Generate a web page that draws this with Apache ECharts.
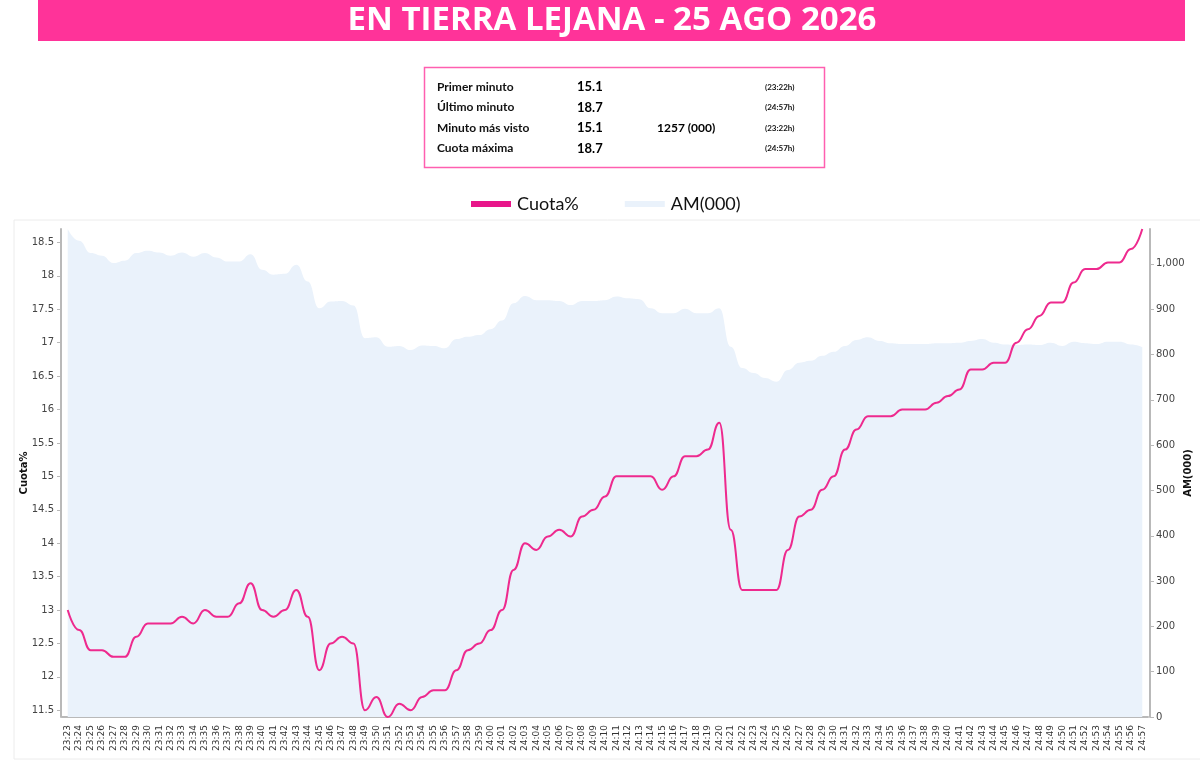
<!DOCTYPE html>
<html>
<head>
<meta charset="utf-8">
<script src="https://cdn.jsdelivr.net/npm/echarts@6/dist/echarts.min.js"></script>
<style>
html,body{margin:0;padding:0;background:#fff;}
#chart{width:1200px;height:761px;}
</style>
</head>
<body>
<div id="chart"></div>
<script>
var categories = ['23:23','23:24','23:25','23:26','23:27','23:28','23:29','23:30','23:31','23:32','23:33','23:34','23:35','23:36','23:37','23:38','23:39','23:40','23:41','23:42','23:43','23:44','23:45','23:46','23:47','23:48','23:49','23:50','23:51','23:52','23:53','23:54','23:55','23:56','23:57','23:58','23:59','24:00','24:01','24:02','24:03','24:04','24:05','24:06','24:07','24:08','24:09','24:10','24:11','24:12','24:13','24:14','24:15','24:16','24:17','24:18','24:19','24:20','24:21','24:22','24:23','24:24','24:25','24:26','24:27','24:28','24:29','24:30','24:31','24:32','24:33','24:34','24:35','24:36','24:37','24:38','24:39','24:40','24:41','24:42','24:43','24:44','24:45','24:46','24:47','24:48','24:49','24:50','24:51','24:52','24:53','24:54','24:55','24:56','24:57'];

var cuota = [13.0,12.7,12.4,12.4,12.3,12.3,12.6,12.8,12.8,12.8,12.9,12.8,13.0,12.9,12.9,13.1,13.4,13.0,12.9,13.0,13.3,12.9,12.1,12.5,12.6,12.5,11.5,11.7,11.4,11.6,11.5,11.7,11.8,11.8,12.1,12.4,12.5,12.7,13.0,13.6,14.0,13.9,14.1,14.2,14.1,14.4,14.5,14.7,15.0,15.0,15.0,15.0,14.8,15.0,15.3,15.3,15.4,15.8,14.2,13.3,13.3,13.3,13.3,13.9,14.4,14.5,14.8,15.0,15.4,15.7,15.9,15.9,15.9,16.0,16.0,16.0,16.1,16.2,16.3,16.6,16.6,16.7,16.7,17.0,17.2,17.4,17.6,17.6,17.9,18.1,18.1,18.2,18.2,18.4,18.7];

var am = [1077,1051,1024,1018,1002,1007,1024,1029,1025,1018,1025,1016,1024,1014,1005,1005,1021,987,976,978,998,961,902,917,918,908,836,838,817,819,810,820,819,814,834,839,843,856,875,913,929,920,920,918,909,918,918,920,928,924,922,902,891,891,901,891,891,902,817,770,759,748,740,766,782,786,797,806,819,832,838,830,825,823,823,823,825,825,826,830,834,826,822,821,822,821,826,819,828,825,823,828,828,822,816];

var cuotaTicks = [11.5,12,12.5,13,13.5,14,14.5,15,15.5,16,16.5,17,17.5,18,18.5];
var amTicks = [0,100,200,300,400,500,600,700,800,900,1000];

var titleText = 'EN TIERRA LEJANA - 25 AGO 2026';
var infoLabels = ['Primer minuto','Último minuto','Minuto más visto','Cuota máxima'];
var infoValues = ['15.1','18.7','15.1','18.7'];
var infoExtra = ['','','1257 (000)',''];
var infoTimes = ['(23:22h)','(24:57h)','(23:22h)','(24:57h)'];

var PINK = '#EE2A8E';
var AREA = '#EAF2FB';
var AXIS = '#b9b9b9';
var LABEL_FONT = 'DejaVu Sans';
var HEAD_FONT = 'Lato';

var graphics = [
  {type:'rect', shape:{x:14,y:220,width:1200,height:539}, style:{fill:'none',stroke:'#ececec',lineWidth:1}, silent:true, z:-10},
  {type:'rect', shape:{x:38,y:0,width:1147,height:41}, style:{fill:'#FF3399'}},
  {type:'text', x:612, y:21, style:{text:titleText, fill:'#fff', font:'bold 33px "Open Sans"', align:'center', verticalAlign:'middle'}},
  {type:'rect', shape:{x:424.5,y:67.5,width:400,height:100}, style:{fill:'#fff',stroke:'#FF5FB0',lineWidth:1.5}}
];
var rowY = [87, 107.5, 128, 148.5];
for (var i = 0; i < infoLabels.length; i++) {
  graphics.push({type:'text', x:437, y:rowY[i], style:{text:infoLabels[i], fill:'#111', font:'bold 12px "'+HEAD_FONT+'"', verticalAlign:'middle'}});
  graphics.push({type:'text', x:577, y:rowY[i], style:{text:infoValues[i], fill:'#000', font:'bold 13px "'+HEAD_FONT+'"', verticalAlign:'middle'}});
  if (infoExtra[i]) graphics.push({type:'text', x:657, y:rowY[i], style:{text:infoExtra[i], fill:'#000', font:'bold 12px "'+HEAD_FONT+'"', verticalAlign:'middle'}});
  graphics.push({type:'text', x:765, y:rowY[i], style:{text:infoTimes[i], fill:'#111', font:'bold 8px "'+HEAD_FONT+'"', verticalAlign:'middle'}});
}

var chart = echarts.init(document.getElementById('chart'), null, {renderer:'canvas'});
chart.setOption({
  animation:false,
  backgroundColor:'#fff',
  graphic: graphics,
  legend: {
    data:[{name:'Cuota%', icon:'rect', itemStyle:{color:'#E8168A'}}, {name:'AM(000)', icon:'rect', itemStyle:{color:AREA}}],
    left:466, top:190, itemWidth:40, itemHeight:6, itemGap:46,
    textStyle:{fontFamily:HEAD_FONT, fontSize:18, color:'#111', padding:[0,0,0,1]}
  },
  grid:{left:62, right:52, top:229, bottom:44, containLabel:false, outerBoundsMode:'none'},
  xAxis:{
    type:'category', data:categories, boundaryGap:true, offset:2,
    axisLine:{lineStyle:{color:AXIS, width:2}},
    axisTick:{alignWithLabel:true, interval:0, length:4, lineStyle:{color:AXIS}},
    axisLabel:{rotate:90, interval:0, fontSize:9, color:'#333', fontFamily:LABEL_FONT, margin:6},
    splitLine:{show:false}
  },
  yAxis:[
    {
      type:'value', min:'dataMin', max:'dataMax', position:'left', offset:1,
      name:'Cuota%', nameLocation:'middle', nameGap:32, nameRotate:90, nameMoveOverlap:false,
      nameTextStyle:{fontFamily:LABEL_FONT, fontSize:10, fontWeight:'bold', color:'#111'},
      axisLine:{show:true, lineStyle:{color:AXIS, width:2}},
      axisTick:{show:true, length:4, lineStyle:{color:AXIS}, customValues:cuotaTicks},
      axisLabel:{fontSize:10, color:'#444', fontFamily:LABEL_FONT, margin:7, customValues:cuotaTicks},
      splitLine:{show:false}
    },
    {
      type:'value', min:0, max:'dataMax', position:'right', offset:2,
      name:'AM(000)', nameLocation:'middle', nameGap:33, nameRotate:90, nameMoveOverlap:false,
      nameTextStyle:{fontFamily:LABEL_FONT, fontSize:10, fontWeight:'bold', color:'#111'},
      axisLine:{show:true, lineStyle:{color:AXIS, width:2}},
      axisTick:{show:true, length:4, lineStyle:{color:AXIS}, customValues:amTicks},
      axisLabel:{fontSize:10, color:'#444', fontFamily:LABEL_FONT, margin:6, customValues:amTicks,
        formatter:function(v){ return Number(v).toLocaleString('en-US'); }},
      splitLine:{show:false}
    }
  ],
  series:[
    {
      name:'Cuota%', type:'line', data:cuota, yAxisIndex:0, smooth:0.5, smoothMonotone:'x', showSymbol:false, z:5,
      lineStyle:{color:PINK, width:2}, itemStyle:{color:PINK}
    },
    {
      name:'AM(000)', type:'line', data:am, yAxisIndex:1, smooth:0.5, smoothMonotone:'x', showSymbol:false, z:1,
      lineStyle:{width:0, color:AREA}, itemStyle:{color:AREA},
      areaStyle:{color:AREA, opacity:1}
    }
  ]
});
</script>
</body>
</html>
